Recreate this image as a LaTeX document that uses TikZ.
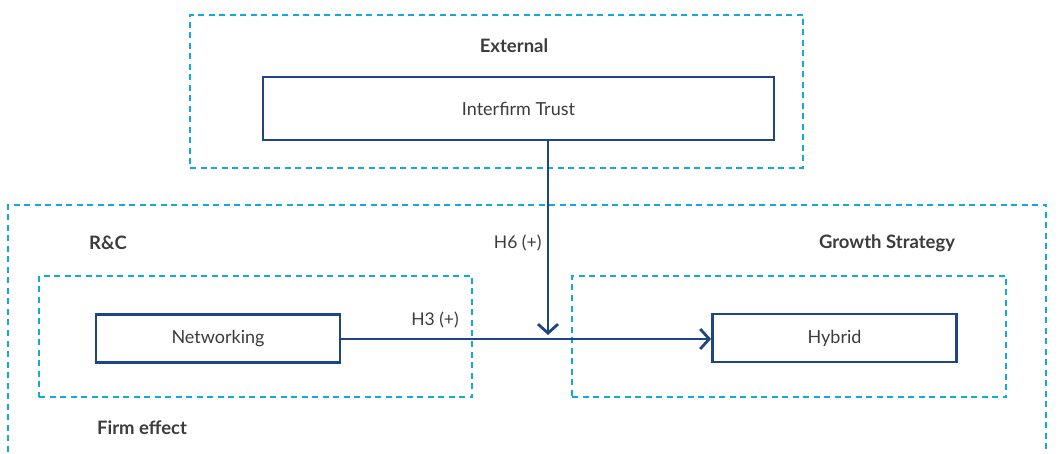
\documentclass[tikz,border=0pt]{standalone}
\usepackage{fontspec}
\setmainfont{Lato}
\usetikzlibrary{arrows.meta}
\definecolor{dkblue}{RGB}{30,70,135}
\definecolor{ltblue}{RGB}{20,168,224}
\definecolor{txt}{RGB}{60,60,60}
\begin{document}
\begin{tikzpicture}[x=1pt,y=1pt,
  dbox/.style={draw=ltblue,line width=2.8pt,dash pattern=on 6pt off 4.5pt},
  vbox/.style={draw=dkblue,line width=2.8pt,fill=white,minimum height=48pt,text=txt,font=\fontsize{18}{20}\selectfont},
  lbl/.style={text=txt,font=\fontsize{17.5}{20}\selectfont},
  blbl/.style={text=txt,font=\bfseries\fontsize{18.5}{20}\selectfont},
  arr/.style={draw=dkblue,line width=2.8pt,-{Straight Barb[length=9pt,width=20pt]}}]
\useasboundingbox (0,0) rectangle (1058,453);
\clip (0,0) rectangle (1058,453);
% dashed regions
\node[dbox,minimum width=613pt,minimum height=153pt,inner sep=0pt] (ext) at (496.5,361.5) {};
\draw[dbox] (8,-30) rectangle (1046,248) coordinate (firmtr);
\node[dbox,minimum width=433pt,minimum height=121pt,inner sep=0pt] (rc) at (255.5,116.5) {};
\node[dbox,minimum width=434pt,minimum height=121pt,inner sep=0pt] (gs) at (789,116.5) {};
% labels
\node[blbl] (extl) at (514,407) {External};
\node[blbl] (rcl) at (108,210) {R\&C};
\node[blbl] (gsl) at (887,210) {Growth Strategy};
\node[blbl] (fel) at (142,25) {Firm effect};
% variable boxes
\node[vbox,minimum width=511pt,minimum height=63pt] (trust) at (518.5,344.5) {Interfirm Trust};
\node[vbox,minimum width=244pt] (net) at (218,114.5) {Networking};
\node[vbox,minimum width=244pt] (hyb) at (834.5,115) {Hybrid};
% connectors
\coordinate (meet) at (548,118);
\draw[arr] (trust.south -| meet) -- (meet);
\draw[arr] (net.east |- 0,114) -- (hyb.west |- 0,114);
\node[lbl,anchor=east] (h6) at (545,210) {H6 (+)};
\node[lbl] (h3) at (435,133) {H3 (+)};
\end{tikzpicture}
\end{document}
